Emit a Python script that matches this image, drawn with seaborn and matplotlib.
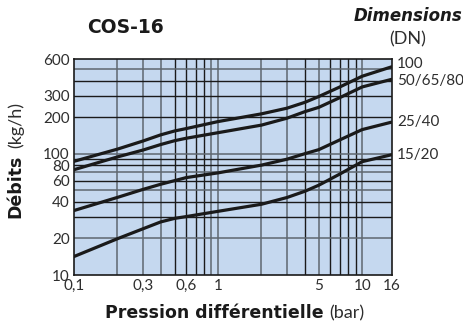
import matplotlib
matplotlib.use('Agg')
import matplotlib.pyplot as plt
import seaborn as sns
import pandas as pd
import numpy as np

# Pression différentielle (bar) and débits (kg/h)
pressure = [0.1, 0.2, 0.3, 0.4, 0.5, 0.6, 1, 2, 3, 4, 5, 7, 10, 16]
dn_100 = [86.5, 109, 127, 143, 154, 161, 184, 213, 237, 265, 296, 355, 435, 520]
dn_50_65_80 = [73.8, 94, 107, 119, 128, 134, 149, 172, 196, 222, 241, 290, 355, 410]
dn_25_40 = [34, 43.6, 50.7, 56, 60, 63.5, 69.5, 80.5, 90, 100, 108, 130, 158, 182]
dn_15_20 = [14.2, 19.9, 24, 27.4, 29.3, 30.3, 33.5, 38.3, 43.5, 49, 55, 68, 86, 98]
series_names = ["100", "50/65/80", "25/40", "15/20"]

x_ticks = [0.1, 0.3, 0.6, 1, 5, 10, 16]
x_labels = ["0,1", "0,3", "0,6", "1", "5", "10", "16"]
y_ticks = [10, 20, 40, 60, 80, 100, 200, 300, 600]
y_labels = ["10", "20", "40", "60", "80", "100", "200", "300", "600"]

# grid lines, two shades as in the original
x_grid_gray = [0.2, 0.3, 0.4, 0.9, 1, 2, 3, 5, 10]
x_grid_black = [0.5, 0.6, 0.7, 0.8, 4, 6, 7, 8, 9]
y_grid_gray = [20, 50, 70, 100, 500]
y_grid_black = [30, 40, 60, 80, 90, 200, 300, 400]

df = pd.DataFrame({
    "pression": pressure * 4,
    "debit": dn_100 + dn_50_65_80 + dn_25_40 + dn_15_20,
    "dn": [n for n in series_names for _ in pressure],
})

sns.set_style("white")
plt.rcParams["font.family"] = ["Lato", "DejaVu Sans"]

BOLD = ["DejaVu Sans"]
DARK = "#1a1a1a"
GREY = "#2e2e2e"

fig = plt.figure(figsize=(4.63, 3.27), dpi=100)
ax = fig.add_axes([0.1598, 0.159, 0.686, 0.6597])
ax.set_facecolor("#c5d8ef")
ax.set_xscale("log")
ax.set_yscale("log")
ax.set_xlim(0.1, 16)
ax.set_ylim(10, 600)

for v in x_grid_gray:
    ax.axvline(v, color="#5f6770", lw=1.1, zorder=1)
for v in x_grid_black:
    ax.axvline(v, color=DARK, lw=1.0, zorder=1)
for v in y_grid_gray:
    ax.axhline(v, color="#5f6770", lw=1.1, zorder=1)
for v in y_grid_black:
    ax.axhline(v, color=DARK, lw=1.0, zorder=1)

sns.lineplot(data=df, x="pression", y="debit", units="dn", estimator=None,
             color=DARK, lw=2.3, ax=ax, zorder=3, legend=False)

for s in ax.spines.values():
    s.set_color(DARK)
    s.set_linewidth(1.2)

ax.set_xticks(x_ticks)
ax.set_xticklabels(x_labels)
ax.set_yticks(y_ticks)
ax.set_yticklabels(y_labels)
ax.minorticks_off()
ax.tick_params(length=0, pad=3, labelsize=11, labelcolor=GREY)
ax.set_xlabel("")
ax.set_ylabel("")

# DN labels at the right end of each curve
ends = [dn_100[-1], dn_50_65_80[-1], dn_25_40[-1], dn_15_20[-1]]
offsets = [2, -1, 0, 0]
for name, yv, dy in zip(series_names, ends, offsets):
    ax.annotate(name, xy=(1, yv), xycoords=("axes fraction", "data"),
                xytext=(4, dy), textcoords="offset points", va="center",
                ha="left", fontsize=11, color=GREY, annotation_clip=False)

fig.text(0.271, 0.917, "COS-16", fontsize=13.5, fontweight="heavy",
         family=BOLD, color=DARK, ha="center", va="center")
fig.text(0.998, 0.952, "Dimensions", fontsize=12, fontweight="heavy",
         style="italic", family=BOLD, color=DARK, ha="right", va="center")
fig.text(0.881, 0.88, "(DN)", fontsize=13, color=GREY,
         ha="center", va="center")

# axis titles: bold part + regular unit, centred as one line
fig.canvas.draw()
r = fig.canvas.get_renderer()
W, H = fig.bbox.width, fig.bbox.height

xb = fig.text(0, 0.043, "Pression différentielle", fontsize=12.5,
              fontweight="heavy", family=BOLD, color=DARK,
              ha="left", va="center")
xr = fig.text(0, 0.043, "(bar)", fontsize=13, color=GREY,
              ha="left", va="center")
wb = xb.get_window_extent(r).width
wr = xr.get_window_extent(r).width
gap = 6
x0 = 235 - (wb + gap + wr) / 2
xb.set_x(x0 / W)
xr.set_x((x0 + wb + gap) / W)

yb = fig.text(0.034, 0, "Débits", fontsize=12.5, fontweight="heavy",
              family=BOLD, color=DARK, ha="center", va="bottom", rotation=90)
yr = fig.text(0.034, 0, "(kg/h)", fontsize=13, color=GREY,
              ha="center", va="bottom", rotation=90)
hb = yb.get_window_extent(r).height
hr = yr.get_window_extent(r).height
y0 = (327 - 160) - (hb + gap + hr) / 2
yb.set_y(y0 / H)
yr.set_y((y0 + hb + gap) / H)

fig.savefig("out.png", dpi=100)
